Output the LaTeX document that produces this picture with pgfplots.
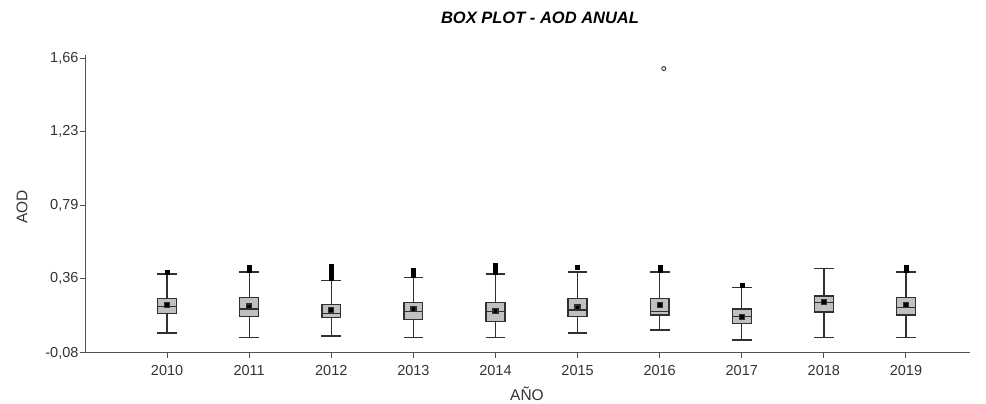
\documentclass[border=0pt]{standalone}
\usepackage{pgfplots}
\pgfplotsset{compat=1.18}
\usepgfplotslibrary{statistics}
\usepackage{fontspec}
\setmainfont{Liberation Sans}
\definecolor{boxgray}{HTML}{C0C0C0}
\definecolor{linegray}{HTML}{303030}
\definecolor{axgray}{HTML}{505050}
\begin{document}
\begin{tikzpicture}
\useasboundingbox (0,0) rectangle (986pt,404pt);
\begin{axis}[
  at={(85pt,51pt)}, anchor=south west,
  scale only axis, width=885pt, height=298pt,
  xmin=-1, xmax=9.78, ymin=-0.08, ymax=1.68,
  axis x line*=bottom, axis y line*=left,
  axis line style={axgray, line width=1pt},
  xtick={0,...,9}, xticklabels={2010,2011,2012,2013,2014,2015,2016,2017,2018,2019},
  ytick={-0.08,0.36,0.79,1.23,1.66}, yticklabels={{-0,08},{0,36},{0,79},{1,23},{1,66}},
  tick align=outside, major tick length=5pt,
  tick style={axgray, line width=1pt},
  ticklabel style={font=\fontsize{14.5}{16}\selectfont, text=black!80},
  xticklabel style={yshift=-4pt},
  yticklabel style={xshift=2pt},
  boxplot/draw direction=y,
  boxplot/box extend=0.23,
  boxplot/whisker extend=0.24,
  boxplot/every box/.style={draw=linegray, line width=1.3pt, fill=boxgray},
  boxplot/every whisker/.style={draw=linegray, line width=1.3pt},
  boxplot/every median/.style={draw=linegray, line width=1.3pt},
  boxplot/every average/.style={/tikz/mark=square*, /tikz/mark size=2.5pt, /tikz/every mark/.append style={fill=black, draw=black, line width=0.3pt}},
  clip=false,
]
\pgfplotsset{bx/.style={solid, draw=linegray, line width=1.3pt, mark=square*, mark size=2pt, mark options={fill=black, draw=black, line width=0.3pt}}}
\addplot[bx, boxplot prepared={draw position=0, lower whisker=0.038, lower quartile=0.155, median=0.194, upper quartile=0.240, upper whisker=0.386, average=0.202}]
  table[row sep=\\, y index=0] {0.399\\};
\addplot[bx, boxplot prepared={draw position=1, lower whisker=0.011, lower quartile=0.135, median=0.180, upper quartile=0.247, upper whisker=0.399, average=0.194}]
  table[row sep=\\, y index=0] {0.41\\0.425\\};
\addplot[bx, boxplot prepared={draw position=2, lower whisker=0.021, lower quartile=0.129, median=0.155, upper quartile=0.208, upper whisker=0.350, average=0.174}]
  table[row sep=\\, y index=0] {0.362\\0.374\\0.386\\0.398\\0.41\\0.422\\0.432\\};
\addplot[bx, boxplot prepared={draw position=3, lower whisker=0.011, lower quartile=0.119, median=0.164, upper quartile=0.218, upper whisker=0.366, average=0.180}]
  table[row sep=\\, y index=0] {0.38\\0.395\\0.408\\};
\addplot[bx, boxplot prepared={draw position=4, lower whisker=0.011, lower quartile=0.105, median=0.164, upper quartile=0.218, upper whisker=0.386, average=0.168}]
  table[row sep=\\, y index=0] {0.398\\0.412\\0.426\\0.438\\};
\addplot[bx, boxplot prepared={draw position=5, lower whisker=0.038, lower quartile=0.137, median=0.174, upper quartile=0.241, upper whisker=0.399, average=0.188}]
  table[row sep=\\, y index=0] {0.425\\};
\addplot[bx, boxplot prepared={draw position=6, lower whisker=0.056, lower quartile=0.145, median=0.167, upper quartile=0.241, upper whisker=0.399, average=0.204}]
  table[row sep=\\, y index=0] {0.41\\0.425\\};
\addplot[bx, boxplot prepared={draw position=7, lower whisker=-0.003, lower quartile=0.096, median=0.137, upper quartile=0.180, upper whisker=0.306, average=0.133}]
  table[row sep=\\, y index=0] {0.322\\};
\addplot[bx, boxplot prepared={draw position=8, lower whisker=0.011, lower quartile=0.163, median=0.218, upper quartile=0.257, upper whisker=0.417, average=0.220}]
  coordinates {};
\addplot[bx, boxplot prepared={draw position=9, lower whisker=0.011, lower quartile=0.145, median=0.188, upper quartile=0.247, upper whisker=0.399, average=0.204}]
  table[row sep=\\, y index=0] {0.41\\0.425\\};
\addplot[only marks, mark=o, mark size=2pt, mark options={draw=linegray, line width=0.9pt}] coordinates {(6.05,1.60)};
\end{axis}
\node[font=\fontsize{16.5}{18}\selectfont\bfseries\itshape] at (540pt,386pt) {BOX PLOT - AOD ANUAL};
\node[font=\fontsize{15.5}{17}\selectfont, rotate=90, text=black!80] at (22pt,197pt) {AOD};
\node[font=\fontsize{15.5}{17}\selectfont, text=black!80] at (527pt,10pt) {AÑO};
\end{tikzpicture}
\end{document}
